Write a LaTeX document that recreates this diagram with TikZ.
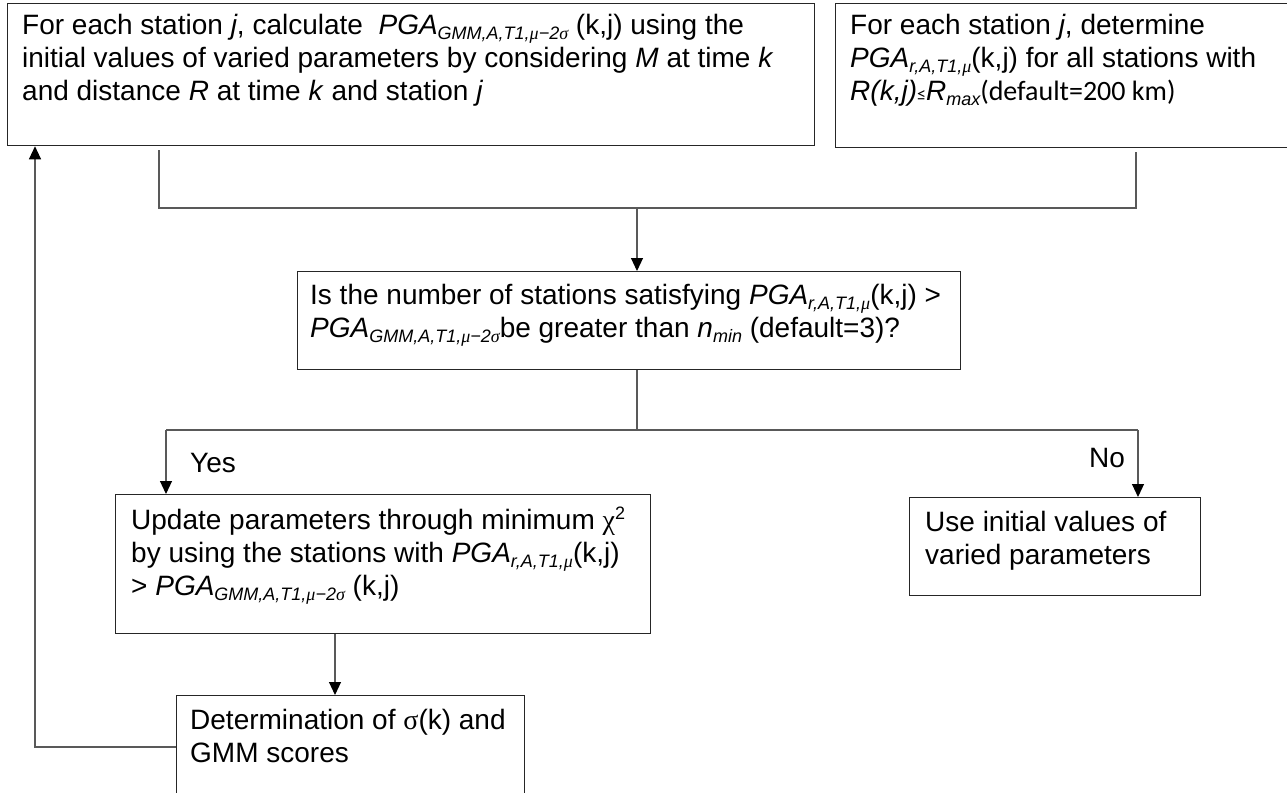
\documentclass[tikz,border=0pt]{standalone}
\usepackage{fontspec}
\setmainfont{Liberation Sans}
\newfontfamily\symf{Liberation Serif}
\newfontfamily\calf{Carlito}
\usetikzlibrary{arrows.meta}
\newcommand\sbs[1]{\raisebox{-5pt}{\fontsize{18}{18}\selectfont #1}}
\newcommand\sps[1]{\raisebox{10pt}{\fontsize{18}{18}\selectfont #1}}
\newcommand\pga[1]{\textit{PGA}\sbs{\itshape #1}}
\newcommand\gmmsub{GMM,A,T1,{\symf μ}−2{\symf σ}}
\newcommand\rsub{r,A,T1,{\symf μ}}
\newcommand\fl{\rule{0pt}{21pt}}
\begin{document}
\begin{tikzpicture}[x=1pt,y=-1pt,
  box/.style={draw=black!85, line width=1.3pt, inner sep=0pt, anchor=north west},
  txt/.style={anchor=north west, inner sep=0pt, align=left, font=\fontsize{28}{33}\selectfont},
  lbl/.style={inner sep=0pt, font=\fontsize{28}{33}\selectfont},
  conn/.style={draw=black!65, line width=1.1pt},
  arr/.style={conn, -{Triangle[length=13pt,width=12pt,color=black]}}]
\useasboundingbox (0,0) rectangle (1287,792);
% boxes
\node[box, minimum width=807, minimum height=142] (b1) at (7,3) {};
\node[box, minimum width=470, minimum height=144] (b2) at (835,3) {};
\node[box, minimum width=663, minimum height=98] (b3) at (297,271) {};
\node[box, minimum width=535, minimum height=139] (b4) at (115,494) {};
\node[box, minimum width=291, minimum height=98] (b5) at (909,497) {};
\node[box, minimum width=348, minimum height=100] (b6) at (176,695) {};
% texts
\node[txt] (t1) at ([xshift=15pt,yshift=-10pt]b1.north west) {\fl For each station \textit{j}, calculate \ \pga{\gmmsub} (k,j) using the\\
initial values of varied parameters by considering \textit{M} at time \textit{k}\\
and distance \textit{R} at time \textit{k} and station \textit{j}};
\node[txt] (t2) at ([xshift=15pt,yshift=-10pt]b2.north west) {\fl For each station \textit{j}, determine\\
\pga{\rsub}(k,j) for all stations with\\
\textit{R(k,j)}{\calf\fontsize{18}{18}\selectfont ≤}\textit{R}\sbs{\itshape max}{\calf (default=200 km)}};
\node[txt] (t3) at ([xshift=13pt,yshift=-12pt]b3.north west) {\fl Is the number of stations satisfying \pga{\rsub}(k,j) >\\
\pga{\gmmsub}be greater than \textit{n}\sbs{\itshape min} (default=3)?};
\node[txt] (t4) at ([xshift=16pt,yshift=-13pt]b4.north west) {\fl Update parameters through minimum {\symf χ}\sps{2}\\
by using the stations with \pga{\rsub}(k,j)\\
> \pga{\gmmsub} (k,j)};
\node[txt] (t5) at ([xshift=16pt,yshift=-13pt]b5.north west) {\fl Use initial values of\\
varied parameters};
\node[txt] (t6) at ([xshift=14pt,yshift=-13pt]b6.north west) {\fl Determination of {\symf σ}(k) and\\
GMM scores};
% labels
\node[lbl] (yes) at (213,463) {Yes};
\node[lbl] (no) at (1107,458) {No};
% junction coordinates
\coordinate (j1) at (159,208);
\coordinate (j2) at (1136,208);
\coordinate (j3) at (637,208);
\coordinate (j4) at (637,430);
\coordinate (j5) at (166,430);
\coordinate (j6) at (1138,430);
\coordinate (j7) at (335,633);
\coordinate (r1) at (35,747);
% connectors
\draw[conn, shorten <=4pt, shorten >=4pt] (b1.south -| j1) -- (j1) -- (j2) -- (b2.south -| j2);
\draw[arr] (j3) -- (j3 |- b3.north);
\draw[conn] (j3 |- b3.south) -- (j4);
\draw[conn] (j5) -- (j6);
\draw[arr] (j5) -- (j5 |- b4.north);
\draw[arr] (j6) -- (j6 |- b5.north);
\draw[arr] (b4.south -| j7) -- (b6.north -| j7);
\draw[arr] (b6.west |- r1) -- (r1) -- (r1 |- b1.south);
\end{tikzpicture}
\end{document}
